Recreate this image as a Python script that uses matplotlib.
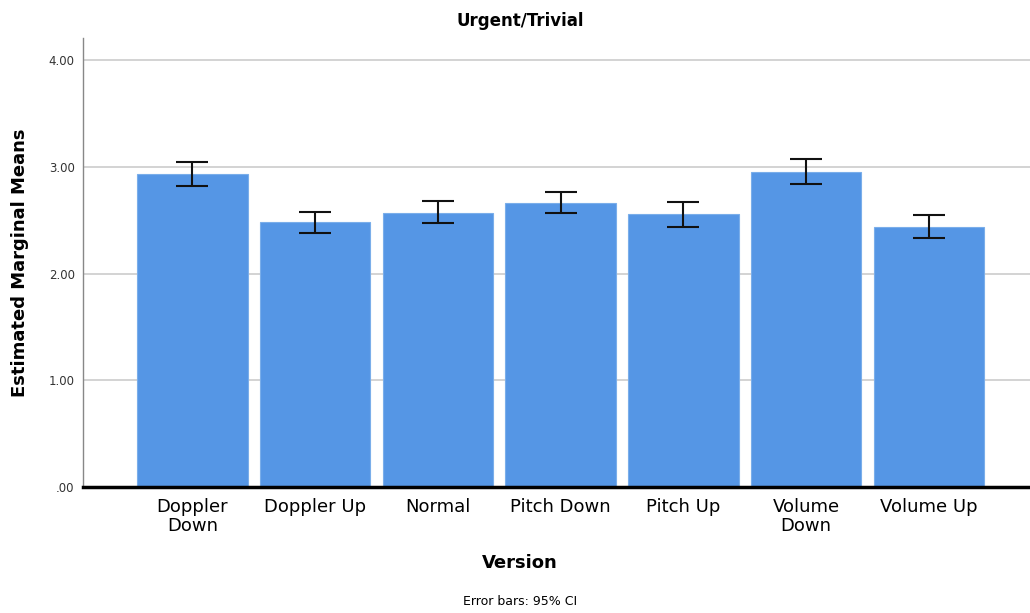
import matplotlib.pyplot as plt
import numpy as np

# values
versions = ["Doppler\nDown", "Doppler Up", "Normal", "Pitch Down", "Pitch Up", "Volume\nDown", "Volume Up"]
means = [2.93, 2.48, 2.57, 2.66, 2.555, 2.95, 2.44]
ci_low = [2.82, 2.38, 2.47, 2.57, 2.44, 2.84, 2.33]
ci_high = [3.04, 2.58, 2.68, 2.76, 2.67, 3.07, 2.55]
y_ticks = [0, 1, 2, 3, 4]
y_tick_labels = [".00", "1.00", "2.00", "3.00", "4.00"]

fig = plt.figure(figsize=(10.3, 6.13), dpi=100)
ax = fig.add_axes([0.0806, 0.2055, 0.919, 0.7325])

x = np.arange(len(versions))
means_arr = np.array(means)
yerr = [means_arr - np.array(ci_low), np.array(ci_high) - means_arr]

ax.bar(x, means, width=0.9, color="#5596e5", edgecolor="#7aaeea", linewidth=0.8, zorder=2)
ax.errorbar(x, means, yerr=yerr, fmt="none", ecolor="#111111", elinewidth=1.5,
            capsize=11.5, capthick=1.5, zorder=3)

ax.set_xlim(-0.89, 6.82)
ax.set_ylim(0, 4.206)
ax.set_yticks(y_ticks)
ax.set_yticklabels(y_tick_labels, fontsize=8.5, color="#333333")
ax.set_xticks(x)
ax.set_xticklabels(versions, fontsize=13, linespacing=1.05)
ax.tick_params(axis="x", length=0, pad=8)
ax.tick_params(axis="y", length=0, pad=6)
ax.yaxis.grid(True, color="#cccccc", linewidth=1.2, zorder=0)
ax.set_axisbelow(True)

for side in ["top", "right"]:
    ax.spines[side].set_visible(False)
ax.spines["left"].set_color("#888888")
ax.spines["left"].set_linewidth(1)
ax.spines["bottom"].set_color("black")
ax.spines["bottom"].set_linewidth(2.5)
ax.spines["bottom"].set_zorder(4)

ax.set_ylabel("Estimated Marginal Means", fontsize=13, fontweight="bold", labelpad=14)
fig.text(0.505, 0.965, "Urgent/Trivial", ha="center", va="center", fontsize=12, fontweight="bold")
fig.text(0.505, 0.081, "Version", ha="center", va="center", fontsize=13, fontweight="bold")
fig.text(0.505, 0.019, "Error bars: 95% CI", ha="center", va="center", fontsize=9)

plt.savefig("out.png", dpi=100)
